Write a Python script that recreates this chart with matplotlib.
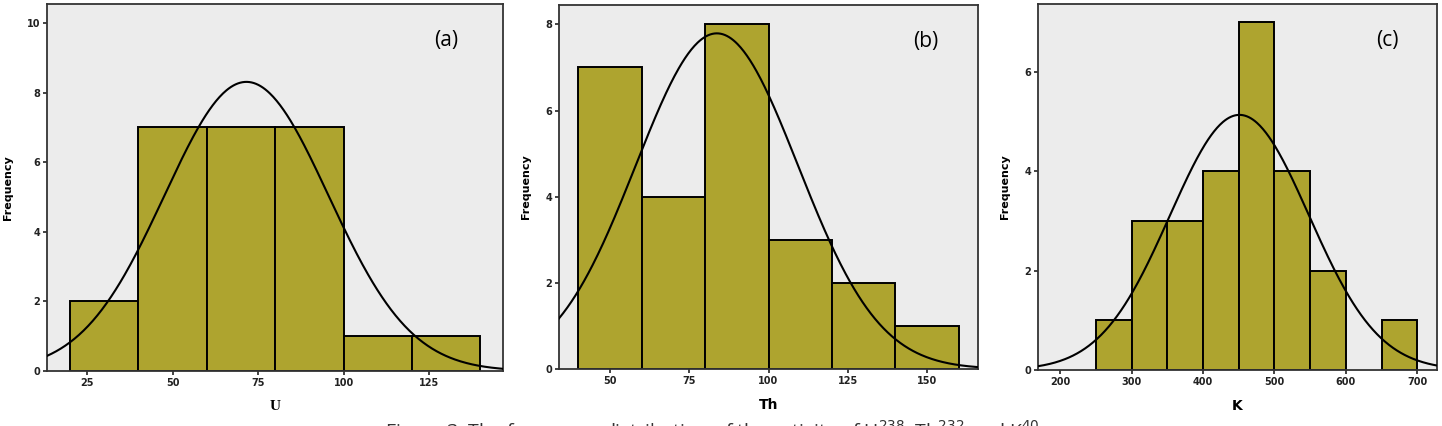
import numpy as np
import matplotlib
matplotlib.use("Agg")
import matplotlib.pyplot as plt

# histogram counts
u_edges = [20, 40, 60, 80, 100, 120, 140]
u_counts = [2, 7, 7, 7, 1, 1]
th_edges = [40, 60, 80, 100, 120, 140, 160]
th_counts = [7, 4, 8, 3, 2, 1]
k_edges = [250, 300, 350, 400, 450, 500, 550, 600, 650, 700]
k_counts = [1, 3, 3, 4, 7, 4, 2, 0, 1]

# fitted normal curves (mean, sd)
u_fit = (71.6, 24.0)
th_fit = (83.7, 25.6)
k_fit = (451.0, 97.2)

bar_color = "#AEA42F"
bg = "#ECECEC"

fig = plt.figure(figsize=(14.42, 4.26), dpi=100)
W, H = 1442, 426


def box(l, t, r, b):
    return [l / W, 1 - b / H, (r - l) / W, (b - t) / H]


panels = [
    dict(rect=box(47, 4, 503, 371), edges=u_edges, counts=u_counts, fit=u_fit,
         xlim=(13.3, 146.6), ylim=(0, 10.55), xt=[25, 50, 75, 100, 125],
         yt=[0, 2, 4, 6, 8, 10], xl="U", tag="(a)", serif=True),
    dict(rect=box(559, 5, 978, 369), edges=th_edges, counts=th_counts, fit=th_fit,
         xlim=(33.9, 166.1), ylim=(0, 8.45), xt=[50, 75, 100, 125, 150],
         yt=[0, 2, 4, 6, 8], xl="Th", tag="(b)", serif=False),
    dict(rect=box(1038, 4, 1437, 370), edges=k_edges, counts=k_counts, fit=k_fit,
         xlim=(169, 727.5), ylim=(0, 7.36), xt=[200, 300, 400, 500, 600, 700],
         yt=[0, 2, 4, 6], xl="K", tag="(c)", serif=False),
]

for p in panels:
    ax = fig.add_axes(p["rect"])
    ax.set_facecolor(bg)
    e = np.array(p["edges"])
    c = np.array(p["counts"])
    keep = c > 0
    ax.bar(e[:-1][keep], c[keep], width=np.diff(e)[keep], align="edge",
           color=bar_color, edgecolor="black", linewidth=1.4, zorder=2)
    m, s = p["fit"]
    n = c.sum()
    bw = e[1] - e[0]
    xs = np.linspace(p["xlim"][0], p["xlim"][1], 400)
    ys = n * bw / (s * np.sqrt(2 * np.pi)) * np.exp(-0.5 * ((xs - m) / s) ** 2)
    ax.plot(xs, ys, color="black", linewidth=1.5, zorder=3)
    ax.set_xlim(p["xlim"])
    ax.set_ylim(p["ylim"])
    ax.set_xticks(p["xt"])
    ax.set_yticks(p["yt"])
    ax.tick_params(length=3, width=1.2, labelsize=7, pad=2, colors="#222222")
    for lab in ax.get_xticklabels() + ax.get_yticklabels():
        lab.set_fontweight("bold")
    for sp in ax.spines.values():
        sp.set_color("#333333")
        sp.set_linewidth(1.3)
    ax.set_ylabel("Frequency", fontsize=8, fontweight="bold", labelpad=10)
    if p["serif"]:
        ax.set_xlabel(p["xl"], fontsize=11, fontweight="bold", family="Liberation Serif", labelpad=9)
    else:
        ax.set_xlabel(p["xl"], fontsize=10, fontweight="bold", labelpad=9)
    ax.text(0.875, 0.9, p["tag"], transform=ax.transAxes, fontsize=15,
            family="Open Sans", ha="center", va="center")

# caption, cut off by the bottom edge as in the source
fig.text(0.494, 1 - 418 / H,
         "Figure 3: The frequency distribution of the activity of U$^{238}$, Th$^{232}$ and K$^{40}$",
         fontsize=14, family="Open Sans", ha="center", va="top", color="#333333")

fig.savefig("out.png", dpi=100)
